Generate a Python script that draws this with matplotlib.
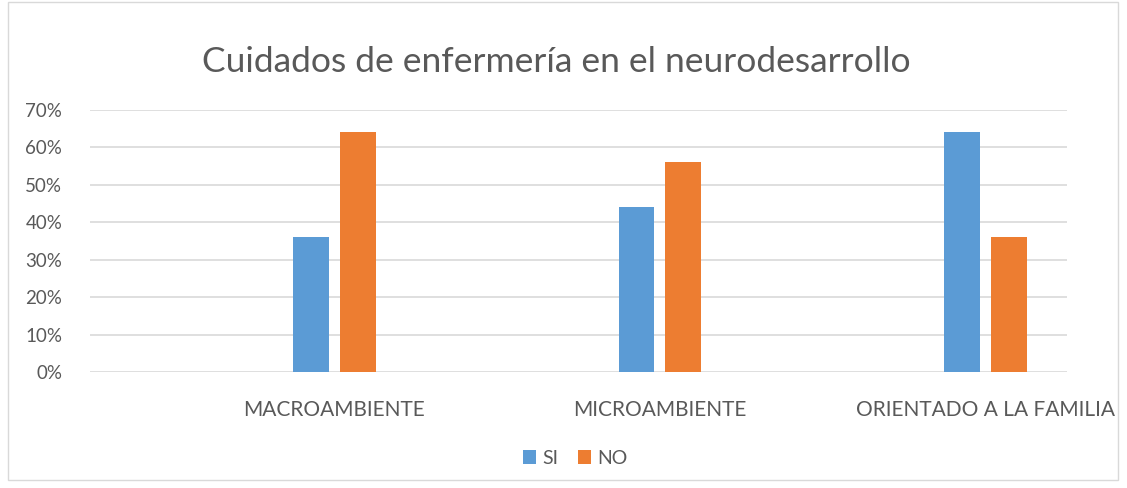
import numpy as np
import matplotlib.pyplot as plt
from matplotlib.patches import Rectangle

# Cuidados de enfermeria - SI / NO por categoria
categorias = ["MACROAMBIENTE", "MICROAMBIENTE", "ORIENTADO A LA FAMILIA"]
si = [36, 44, 64]
no = [64, 56, 36]

plt.rcParams['font.family'] = ['Lato', 'DejaVu Sans']

fig = plt.figure(figsize=(11.27, 4.88), dpi=100)
fig.patches.append(Rectangle((8 / 1127, 8 / 488), 1110 / 1127, 478 / 488, transform=fig.transFigure,
                             fill=False, edgecolor="#d9d9d9", linewidth=1))
ax = fig.add_axes([90 / 1127, 1 - 372 / 488, 977 / 1127, 262 / 488])

x = np.arange(1, len(categorias) + 1)
w = 0.11
ax.bar(x - 0.072, si, w, color="#5b9bd5", label="SI", zorder=3)
ax.bar(x + 0.072, no, w, color="#ed7d31", label="NO", zorder=3)

ax.set_xlim(0.25, 3.25)
ax.set_ylim(0, 70)
ax.set_yticks(range(0, 80, 10))
ax.set_yticklabels([f"{v}%" for v in range(0, 80, 10)], fontsize=13.5, color="#595959")
ax.set_xticks(x)
ax.set_xticklabels(categorias, fontsize=15, color="#595959")
ax.tick_params(length=0, pad=20, axis="x")
ax.tick_params(length=0, pad=20, axis="y")
ax.grid(axis="y", color="#d9d9d9", linewidth=1.2, zorder=0)
for s in ax.spines.values():
    s.set_visible(False)

fig.text(556 / 1127, 1 - 62 / 488, "Cuidados de enfermería en el neurodesarrollo",
         ha="center", va="center", fontsize=25.5, color="#595959")
fig.legend(loc="center", bbox_to_anchor=(575 / 1127, 1 - 458 / 488), ncol=2, frameon=False,
           fontsize=14, handlelength=0.7, handleheight=0.7, columnspacing=1.0, handletextpad=0.3,
           labelcolor="#595959")

plt.savefig("out.png", dpi=100)
